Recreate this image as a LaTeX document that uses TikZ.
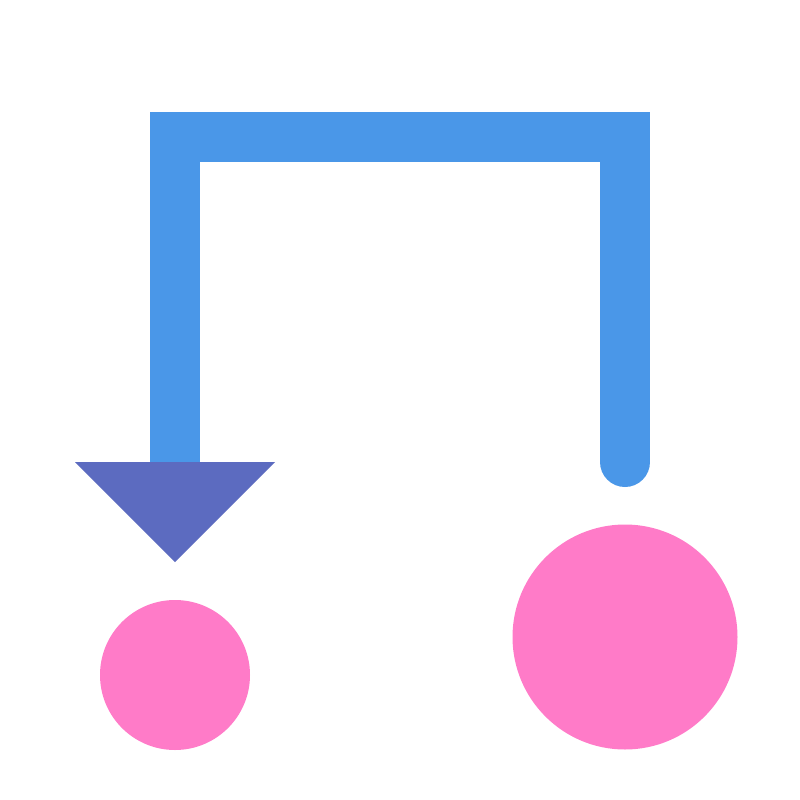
\documentclass[tikz,border=0pt]{standalone}
\definecolor{pathblue}{HTML}{4A97E8}
\definecolor{tri}{HTML}{5C6BC0}
\definecolor{pinkc}{HTML}{FF7BC8}
\begin{document}
\begin{tikzpicture}[x=1pt,y=-1pt,
  bluepath/.style={draw=pathblue,line width=50pt,line cap=round,line join=miter},
  pinkdot/.style={fill=pinkc}]
\useasboundingbox (0,0) rectangle (800,800);
\fill[white] (0,0) rectangle (800,800);
\coordinate (start) at (625,462);
\coordinate (tr) at (625,137);
\coordinate (tl) at (175,137);
\coordinate (end) at (175,462);
\draw[bluepath] (start) -- (tr) -- (tl) -- (end);
\fill[tri] (75,462) -- (275,462) -- (175,562) -- cycle;
\fill[pinkdot] (175,675) circle[radius=75];
\fill[pinkdot] (625,637) circle[radius=112.5];
\end{tikzpicture}
\end{document}
